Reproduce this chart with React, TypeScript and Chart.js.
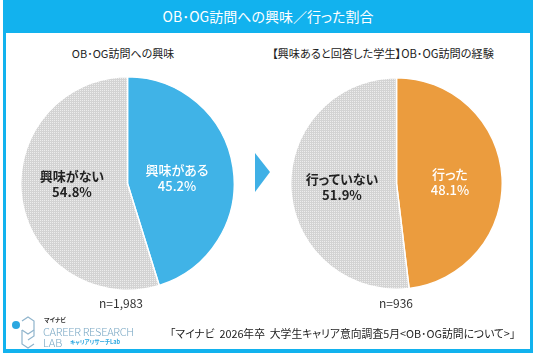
import React, { useEffect, useRef } from "react";
import { Chart, registerables } from "chart.js";

Chart.register(...registerables);

const titleText = "OB･OG訪問への興味／行った割合";
const leftTitle = "OB･OG訪問への興味";
const rightTitle = "【興味あると回答した学生】OB･OG訪問の経験";
const leftCategories = ["興味がある", "興味がない"];
const leftValues = [45.2, 54.8];
const rightCategories = ["行った", "行っていない"];
const rightValues = [48.1, 51.9];
const leftN = "n=1,983";
const rightN = "n=936";
const sourceText = "「マイナビ  2026年卒  大学生キャリア意向調査5月<OB･OG訪問について>」";

const CYAN = "#12b2ee";
const BLUE = "#40b3e7";
const ORANGE = "#eb9c3e";
const FONT = "'Noto Sans CJK JP', 'Noto Sans', sans-serif";

function makePattern(): CanvasPattern | string {
  const c = document.createElement("canvas");
  c.width = 2;
  c.height = 2;
  const ctx = c.getContext("2d");
  if (!ctx) return "#d6d6d6";
  ctx.fillStyle = "#d3d3d3";
  ctx.fillRect(0, 0, 2, 2);
  ctx.fillStyle = "#ededed";
  ctx.fillRect(0, 0, 1, 1);
  const p = ctx.createPattern(c, "repeat");
  return p || "#d6d6d6";
}

function PieChart(props: { values: number[]; labels: string[]; color: string; left: number; top: number; size: number }) {
  const ref = useRef<HTMLCanvasElement | null>(null);
  useEffect(() => {
    if (!ref.current) return;
    const pattern = makePattern();
    const chart = new Chart(ref.current, {
      type: "pie",
      data: {
        labels: props.labels,
        datasets: [
          {
            data: props.values,
            backgroundColor: [props.color, pattern as any],
            borderColor: "#ffffff",
            borderWidth: 1.5,
            hoverOffset: 0,
            offset: 0,
          },
        ],
      },
      options: {
        responsive: false,
        maintainAspectRatio: false,
        animation: false,
        layout: { padding: 0 },
        plugins: { legend: { display: false }, tooltip: { enabled: false } },
        events: [],
      },
    });
    return () => chart.destroy();
  }, []);
  return (
    <canvas
      ref={ref}
      width={props.size}
      height={props.size}
      style={{ position: "absolute", left: props.left, top: props.top, width: props.size, height: props.size }}
    />
  );
}

const abs = (x: number, y: number, extra: React.CSSProperties = {}): React.CSSProperties => ({
  position: "absolute",
  left: x,
  top: y,
  fontFamily: FONT,
  whiteSpace: "pre",
  fontFeatureSettings: '"palt"',
  ...extra,
});

function Label(props: { cx: number; y: number; lines: string[]; color: string; weight: number; size?: number }) {
  return (
    <div
      style={abs(props.cx - 60, props.y, {
        width: 120,
        textAlign: "center",
        color: props.color,
        fontWeight: props.weight,
        fontSize: props.size || 13,
        lineHeight: "16px",
      })}
    >
      {props.lines.map((l, i) => (
        <div key={i}>{l}</div>
      ))}
    </div>
  );
}

export default function App() {
  return (
    <div style={{ position: "absolute", left: 0, top: 0, width: 536, height: 357, background: "#ffffff", overflow: "hidden" }}>
      <div style={{ position: "absolute", left: 3, top: 0, width: 530, height: 353, background: CYAN }} />
      <div style={{ position: "absolute", left: 6, top: 33, width: 524, height: 316, background: "#ffffff" }} />
      <div style={abs(0, 6, { width: 536, textAlign: "center", color: "#ffffff", fontSize: 14, lineHeight: "20px" })}>{titleText}</div>

      <div style={abs(23, 45, { width: 200, textAlign: "center", color: "#222", fontSize: 11, lineHeight: "16px" })}>{leftTitle}</div>
      <div style={abs(272, 45, { width: 220, textAlign: "center", color: "#222", fontSize: 11.2, lineHeight: "16px" })}>{rightTitle}</div>

      <PieChart values={leftValues} labels={leftCategories} color={BLUE} left={20} top={76} size={215} />
      <PieChart values={rightValues} labels={rightCategories} color={ORANGE} left={290} top={77} size={213} />

      <Label cx={177} y={162} lines={[leftCategories[0], leftValues[0].toFixed(1) + "%"]} color="#ffffff" weight={500} />
      <Label cx={72} y={168} lines={[leftCategories[1], leftValues[1].toFixed(1) + "%"]} color="#222" weight={700} />
      <Label cx={450} y={166} lines={[rightCategories[0], rightValues[0].toFixed(1) + "%"]} color="#ffffff" weight={500} />
      <Label cx={342} y={171} lines={[rightCategories[1], rightValues[1].toFixed(1) + "%"]} color="#222" weight={700} />

      <svg style={{ position: "absolute", left: 0, top: 0 }} width={536} height={357}>
        <polygon points="255,153 255,192 270,172" fill="#3fb0e6" />
        <g stroke="#8fb4cc" strokeWidth={1.2} fill="none">
          <polyline points="22,321 28,317 34,321 34,336 28,340" />
          <polyline points="22,330 22,344 28,348 34,344" />
          <polyline points="22,330 28,334 34,330" />
        </g>
        <circle cx={16} cy={325} r={4} fill="#2ba7e0" />
      </svg>

      <div style={abs(96, 295, { width: 50, textAlign: "center", color: "#333", fontSize: 12, lineHeight: "16px" })}>{leftN}</div>
      <div style={abs(371, 295, { width: 50, textAlign: "center", color: "#333", fontSize: 12, lineHeight: "16px" })}>{rightN}</div>

      <div style={abs(44, 316, { fontSize: 6, fontWeight: 700, color: "#333", lineHeight: "7px" })}>マイナビ</div>
      <div style={abs(43, 325, { fontSize: 11, fontWeight: 300, color: "#7aa8c4", lineHeight: "13px", letterSpacing: -0.3 })}>CAREER RESEARCH</div>
      <div style={abs(43, 336, { fontSize: 11, fontWeight: 300, color: "#7aa8c4", lineHeight: "13px" })}>LAB</div>
      <div style={abs(70, 339, { fontSize: 5.5, fontWeight: 700, color: "#2ba7e0", lineHeight: "7px" })}>キャリアリサーチLab</div>

      <div style={abs(170, 325, { color: "#222", fontSize: 10.8, lineHeight: "16px" })}>{sourceText}</div>
    </div>
  );
}
